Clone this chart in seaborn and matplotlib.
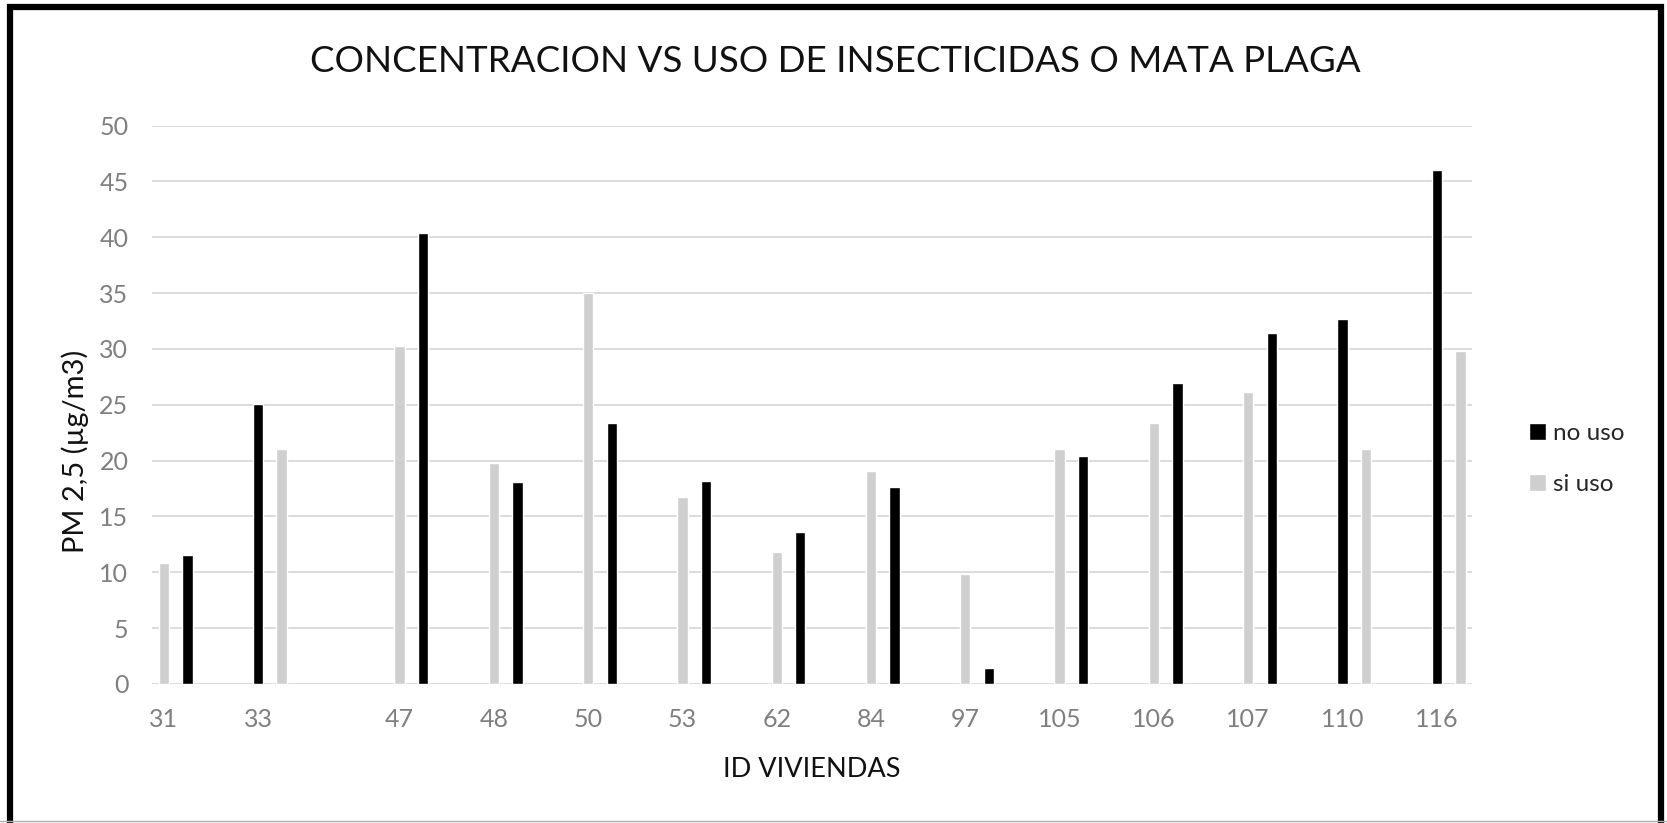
import numpy as np
import pandas as pd
import matplotlib
matplotlib.use('Agg')
import matplotlib.pyplot as plt
import seaborn as sns
from matplotlib.patches import Patch
from matplotlib.lines import Line2D

# Data
ids = ['31', '33', '47', '48', '50', '53', '62', '84', '97', '105', '106', '107', '110', '116']
no_uso = [11.5, 25.1, 40.4, 18.1, 23.4, 18.2, 13.6, 17.6, 1.4, 20.4, 26.9, 31.4, 32.7, 46.0]
si_uso = [10.8, 21.0, 30.3, 19.8, 35.0, 16.7, 11.8, 19.1, 9.8, 21.0, 23.4, 26.1, 21.0, 29.8]
# which series is drawn on the left of each pair
primero = ['si uso', 'no uso', 'si uso', 'si uso', 'si uso', 'si uso', 'si uso',
           'si uso', 'si uso', 'si uso', 'si uso', 'si uso', 'no uso', 'no uso']

sns.set_theme(style='white')
plt.rcParams['font.family'] = ['Lato', 'DejaVu Sans']

# Build long table; the original leaves a wider gap after ID 33
idx = np.arange(len(ids))
base = idx + np.where(idx >= 2, 0.5, 0.0)
rows = []
for i, vid in enumerate(ids):
    for serie, val in (('no uso', no_uso[i]), ('si uso', si_uso[i])):
        pos = base[i] + (0.0 if serie == primero[i] else 0.25)
        rows.append({'id': vid, 'serie': serie, 'valor': val, 'pos': pos})
df = pd.DataFrame(rows)

colores = {'no uso': '#000000', 'si uso': '#cfcfcf'}

fig = plt.figure(figsize=(16.67, 8.23), dpi=100)
ax = fig.add_axes([0.0912, 0.169, 0.792, 0.6785])

sns.barplot(data=df, x='pos', y='valor', hue='serie', hue_order=['no uso', 'si uso'],
            palette=colores, native_scale=True, dodge=False, width=0.44,
            legend=False, ax=ax)

ax.set_xticks(base)
ax.set_xticklabels(ids)
ax.set_xlim(-0.125, base[-1] + 0.377)
ax.set_ylim(0, 50)
ax.set_yticks(range(0, 51, 5))
ax.yaxis.grid(True, color='#d9d9d9', linewidth=1.3)
ax.xaxis.grid(False)
ax.set_axisbelow(True)
for s in ax.spines.values():
    s.set_visible(False)
ax.tick_params(axis='both', length=0, labelsize=18, labelcolor='#7f7f7f')
ax.tick_params(axis='x', pad=17)
ax.tick_params(axis='y', pad=17)

ax.set_xlabel('ID VIVIENDAS', fontsize=19.5, color='#111111')
ax.xaxis.label.set_va('center')
ax.xaxis.set_label_coords(0.5, -0.154)
ax.set_ylabel('PM 2,5 (µg/m3)', fontsize=21, color='#111111')
ax.yaxis.label.set_va('center')
ax.yaxis.set_label_coords(-0.058, 0.416)

fig.text(0.501, 0.925, 'CONCENTRACION VS USO DE INSECTICIDAS O MATA PLAGA',
         ha='center', va='center', fontsize=26.5, color='#111111')

handles = [Patch(facecolor=colores['no uso']), Patch(facecolor=colores['si uso'])]
fig.legend(handles, ['no uso', 'si uso'], loc='center left', bbox_to_anchor=(0.904, 0.442),
           frameon=False, fontsize=17.5, handlelength=0.7, handleheight=0.7,
           handletextpad=0.3, labelspacing=1.25)

# black frame (left, top, right) around the picture, bottom edge cut off
fig.lines.append(Line2D([0.006, 0.006, 0.9964, 0.9964], [-0.02, 0.991, 0.991, -0.02],
                        transform=fig.transFigure, color='black', linewidth=4.5,
                        solid_joinstyle='miter'))
fig.lines.append(Line2D([0, 1], [0.002, 0.002], transform=fig.transFigure,
                        color='#b0b0b0', linewidth=1))

fig.savefig('out.png', dpi=100)
